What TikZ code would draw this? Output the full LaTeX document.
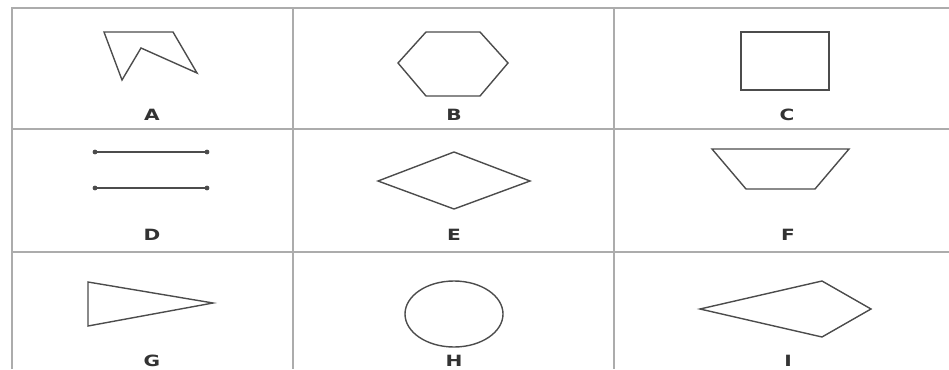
\documentclass[tikz,border=0pt]{standalone}
\usepackage{fontspec}
\newfontfamily\lblfont[FakeStretch=1.3]{DejaVu Sans}
\usetikzlibrary{positioning}

\begin{document}
\begin{tikzpicture}[
    x=1pt, y=-1pt,
    grd/.style={draw=gray!65, line width=1.8pt},
    shp/.style={draw=black!70, line width=1.4pt, line join=miter},
    lbl/.style={font=\lblfont\bfseries\fontsize{15.5}{15.5}\selectfont, text=black!80, inner sep=0pt}
]
\useasboundingbox (0,0) rectangle (949,369);

% grid
\draw[grd] (12,369) -- (12,8) -- (949,8);
\foreach \yy in {129,252} {
  \draw[grd] (12,\yy) -- (949,\yy);
}
\foreach \xx in {293,614} {
  \draw[grd] (\xx,8) -- (\xx,369);
}

% shapes
\draw[shp] (104,32) -- (173,32) -- (197,73) -- (141,48) -- (122,80) -- cycle;
\draw[shp] (426,32) -- (480,32) -- (508,63) -- (480,96) -- (426,96) -- (398,63) -- cycle;
\draw[shp] (741,32) rectangle (829,90);
\foreach \yy in {152,188} {
  \draw[shp] (95,\yy) -- (207,\yy);
  \fill[black!70] (95,\yy) circle (2.4) (207,\yy) circle (2.4);
}
\draw[shp] (454,152) -- (530,181) -- (454,209) -- (378,181) -- cycle;
\draw[shp] (712,149) -- (849,149) -- (815,189) -- (746,189) -- cycle;
\draw[shp] (88,282) -- (213,303) -- (88,326) -- cycle;
\draw[shp] (454,314) ellipse (49 and 33);
\draw[shp] (700,309) -- (822,281) -- (871,309) -- (822,337) -- cycle;

% labels
\node[lbl] (lA) at (152,115) {A};
\node[lbl] (lB) at (454,115) {B};
\node[lbl] (lC) at (787,115) {C};
\node[lbl] (lD) at (152,235) {D};
\node[lbl] (lE) at (454,235) {E};
\node[lbl] (lF) at (788,235) {F};
\node[lbl] (lG) at (152,361) {G};
\node[lbl] (lH) at (454,361) {H};
\node[lbl] (lI) at (788,361) {I};
\end{tikzpicture}
\end{document}
